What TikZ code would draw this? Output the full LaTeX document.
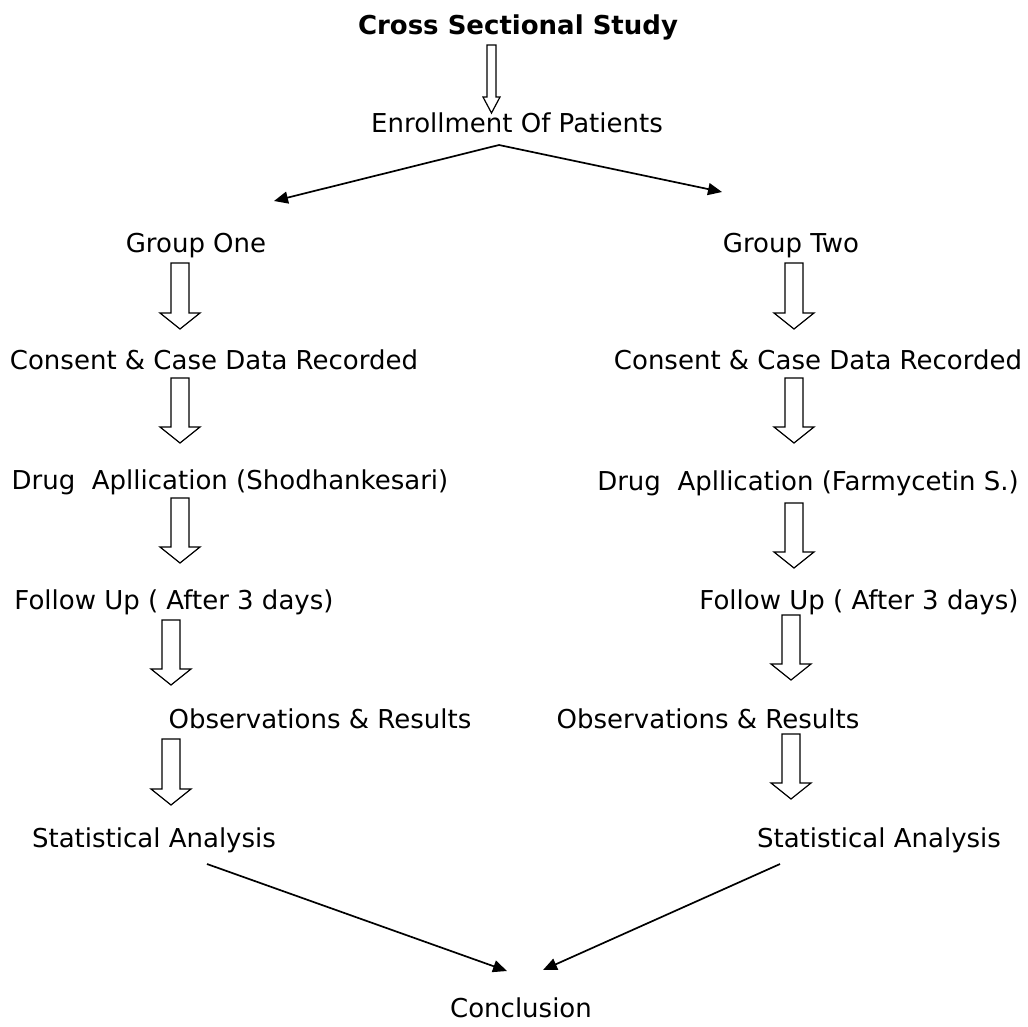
\documentclass[tikz,border=0pt]{standalone}
\usepackage{fontspec}
\setmainfont{DejaVu Sans}
\usetikzlibrary{arrows.meta}
\tikzset{
  lbl/.style={inner sep=0pt, text height=0.73em, text depth=0pt, yshift=-6pt, font=\fontsize{26pt}{30pt}\selectfont},
  fatarrow/.style={draw=black, line width=1.2pt, fill=white, line join=miter},
  thinarrow/.style={line width=1.7pt, -{Triangle[length=14pt,width=12pt]}}
}

\begin{document}
\begin{tikzpicture}[x=1pt,y=-1pt]
\useasboundingbox (0,0) rectangle (1028,1026);

% titles and steps
\node[lbl,font=\bfseries\fontsize{26pt}{30pt}\selectfont] (study) at (518,25) {Cross Sectional Study};
\node[lbl] (enroll) at (517,123) {Enrollment Of Patients};

\node[lbl] (groupone) at (196,243) {Group One};
\node[lbl] (consentone) at (214,360) {Consent \& Case Data Recorded};
\node[lbl] (drugone) at (230,480) {Drug~ Apllication (Shodhankesari)};
\node[lbl] (followone) at (174,600) {Follow Up ( After 3 days)};
\node[lbl] (obsone) at (320,719) {Observations \& Results};
\node[lbl] (statone) at (154,838) {Statistical Analysis};

\node[lbl] (grouptwo) at (791,243) {Group Two};
\node[lbl] (consenttwo) at (818,360) {Consent \& Case Data Recorded};
\node[lbl] (drugtwo) at (808,481) {Drug~ Apllication (Farmycetin S.)};
\node[lbl] (followtwo) at (859,600) {Follow Up ( After 3 days)};
\node[lbl] (obstwo) at (708,719) {Observations \& Results};
\node[lbl] (stattwo) at (879,838) {Statistical Analysis};

\node[lbl] (concl) at (521,1008) {Conclusion};

% hollow block arrows
\draw[fatarrow] (487,45) -- (496,45) -- (496,97) -- (500,97) -- (491.5,113) -- (483,97) -- (487,97) -- cycle;
\foreach \colx/\ystart/\yend in {180/263/329, 180/378/443, 180/498/563, 171/620/685, 171/739/805,
                                  794/263/329, 794/378/443, 794/503/568, 791/615/680, 791/734/799}{
  \draw[fatarrow] (\colx-9,\ystart) -- (\colx+9,\ystart) -- (\colx+9,\yend-16) -- (\colx+20,\yend-16)
     -- (\colx,\yend) -- (\colx-20,\yend-16) -- (\colx-9,\yend-16) -- cycle;
}

% split and join
\coordinate (split) at (499,145);
\coordinate (toone) at (274,201);
\coordinate (totwo) at (722,192);
\draw[thinarrow] (split) -- (toone);
\draw[thinarrow] (split) -- (totwo);

\coordinate (fromone) at (207,864);
\coordinate (fromtwo) at (780,864);
\coordinate (joinone) at (507,971);
\coordinate (jointwo) at (543,970);
\draw[thinarrow] (fromone) -- (joinone);
\draw[thinarrow] (fromtwo) -- (jointwo);
\end{tikzpicture}
\end{document}
